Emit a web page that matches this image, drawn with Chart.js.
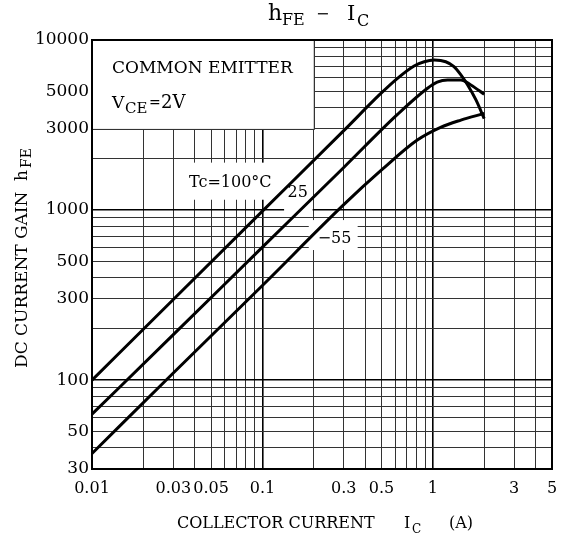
<!DOCTYPE html>
<html>
<head>
<meta charset="utf-8">
<title>hFE - IC</title>
<script src="https://cdn.jsdelivr.net/npm/chart.js@4.4.1/dist/chart.umd.min.js"></script>
<style>
    html, body { margin: 0; padding: 0; background: #fff; }
    #wrap { width: 564px; height: 538px; }
</style>
</head>
<body>
<div id="wrap"><canvas id="chartHfe" width="564" height="538"></canvas></div>
<script>
// Curvas: corriente de colector Ic (A) y ganancia hFE
const icTc100 = [0.01, 0.03, 0.1, 0.3, 0.49, 0.62, 0.776, 0.89, 1.02, 1.19, 1.33, 1.46, 1.6, 1.79, 2.0];
const hfeTc100 = [100, 298, 985, 2930, 4800, 5950, 7030, 7450, 7620, 7450, 6970, 6230, 5440, 4440, 3450];

const icTc25 = [0.01, 0.03, 0.1, 0.3, 0.62, 0.93, 1.06, 1.22, 1.46, 1.67, 2.0];
const hfeTc25 = [63, 185, 605, 1780, 3650, 5200, 5650, 5820, 5820, 5440, 4800];

const icTcM55 = [0.01, 0.03, 0.1, 0.3, 0.5, 0.81, 1.11, 1.46, 2.0];
const hfeTcM55 = [37, 110, 360, 1075, 1720, 2580, 3065, 3380, 3700];

// Rejilla del papel log-log y valores con etiqueta
const xGrid = [0.01, 0.02, 0.03, 0.04, 0.05, 0.06, 0.07, 0.08, 0.09,
    0.1, 0.2, 0.3, 0.4, 0.5, 0.6, 0.7, 0.8, 0.9, 1, 2, 3, 4, 5];
const yGrid = [30, 40, 50, 60, 70, 80, 90, 100, 200, 300, 400, 500, 600, 700, 800, 900,
    1000, 2000, 3000, 4000, 5000, 6000, 7000, 8000, 9000, 10000];
const xTickLabels = [0.01, 0.03, 0.05, 0.1, 0.3, 0.5, 1, 3, 5];
const yTickLabels = [30, 50, 100, 300, 500, 1000, 3000, 5000, 10000];

const SERIF = '"DejaVu Serif", "Liberation Serif", serif';

const GraficoHfe = {
    chart: null,

    // Zonas blancas que tapan la rejilla (cuadro de texto y etiquetas)
    mascaras: [
        { x0: 0.01, x1: 0.2, y0: 3000, y1: 10000 },
        { x0: 0.031, x1: 0.133, y0: 1150, y1: 1900 },
        { x0: 0.134, x1: 0.197, y0: 950, y1: 1900 },
        { x0: 0.187, x1: 0.362, y0: 582, y1: 873 },
    ],

    /**
     * Una decada (0.01, 0.1, 1, 100, 1000...) lleva linea mas marcada
     */
    esDecada: function(v) {
        const l = Math.log10(v);
        return Math.abs(l - Math.round(l)) < 1e-9;
    },

    puntos: function(xs, ys) {
        return xs.map((x, i) => ({ x: x, y: ys[i] }));
    },

    /**
     * Dibuja texto en tramos (para subindices)
     */
    tramos: function(ctx, partes) {
        partes.forEach(p => {
            ctx.font = p.size + 'px ' + SERIF;
            ctx.fillText(p.t, p.x, p.y);
        });
    },

    pluginFondo: {
        id: 'fondoRejilla',
        beforeDatasetsDraw: function(chart) {
            const { ctx, chartArea, scales } = chart;
            const x = scales.x, y = scales.y;
            ctx.save();
            ctx.fillStyle = '#fff';
            GraficoHfe.mascaras.forEach(m => {
                const l = x.getPixelForValue(m.x0);
                const r = x.getPixelForValue(m.x1);
                const t = y.getPixelForValue(m.y1);
                const b = y.getPixelForValue(m.y0);
                ctx.fillRect(l, t, r - l, b - t);
            });

            // Bordes del cuadro "COMMON EMITTER"
            const bx = Math.round(x.getPixelForValue(0.2)) + 0.5;
            const by = Math.round(y.getPixelForValue(3000)) + 0.5;
            ctx.strokeStyle = '#333';
            ctx.lineWidth = 1;
            ctx.beginPath();
            ctx.moveTo(bx, chartArea.top);
            ctx.lineTo(bx, by);
            ctx.lineTo(chartArea.left, by);
            ctx.stroke();

            // Marco
            ctx.strokeStyle = '#000';
            ctx.lineWidth = 2;
            ctx.strokeRect(chartArea.left, chartArea.top,
                chartArea.right - chartArea.left, chartArea.bottom - chartArea.top);
            ctx.restore();
        },
        afterDatasetsDraw: function(chart) {
            const { ctx, scales } = chart;
            const x = scales.x, y = scales.y;
            ctx.save();
            ctx.fillStyle = '#000';
            ctx.textBaseline = 'alphabetic';
            ctx.textAlign = 'left';

            GraficoHfe.tramos(ctx, [
                { t: 'COMMON EMITTER', size: 17, x: 112, y: 73 },
                { t: 'V', size: 17, x: 112, y: 108 },
                { t: 'CE', size: 15, x: 125, y: 113 },
                { t: '=', size: 14, x: 149, y: 107 },
                { t: '2V', size: 18, x: 161, y: 108 },
            ]);

            // Etiquetas de temperatura
            ctx.textAlign = 'center';
            ctx.textBaseline = 'middle';
            ctx.font = '16px ' + SERIF;
            ctx.fillText('Tc=100°C', x.getPixelForValue(0.0648), y.getPixelForValue(1442));
            ctx.fillText('25', x.getPixelForValue(0.161), y.getPixelForValue(1259));
            ctx.fillText('−55', x.getPixelForValue(0.265), y.getPixelForValue(675));
            ctx.restore();
        },
        afterDraw: function(chart) {
            const ctx = chart.ctx;
            ctx.save();
            ctx.fillStyle = '#000';
            ctx.textAlign = 'left';
            ctx.textBaseline = 'alphabetic';

            // Titulo
            GraficoHfe.tramos(ctx, [
                { t: 'h', size: 22, x: 268, y: 20 },
                { t: 'FE', size: 16, x: 282, y: 25 },
                { t: '−', size: 16, x: 316, y: 19 },
                { t: 'I', size: 21, x: 347, y: 20 },
                { t: 'C', size: 16, x: 357, y: 26 },
            ]);

            // Titulo eje X
            GraficoHfe.tramos(ctx, [
                { t: 'COLLECTOR CURRENT', size: 16, x: 177, y: 528 },
                { t: 'I', size: 16, x: 404, y: 528 },
                { t: 'C', size: 12, x: 412, y: 533 },
                { t: '(A)', size: 16, x: 449, y: 528 },
            ]);

            // Titulo eje Y (girado)
            ctx.translate(27, 0);
            ctx.rotate(-Math.PI / 2);
            GraficoHfe.tramos(ctx, [
                { t: 'DC CURRENT GAIN', size: 17, x: -368, y: 0 },
                { t: 'h', size: 17, x: -181, y: 0 },
                { t: 'FE', size: 14, x: -168, y: 4 },
            ]);
            ctx.restore();
        },
    },

    /**
     * Crea el grafico
     */
    init: function() {
        const canvas = document.getElementById('chartHfe');
        if (!canvas) return;

        if (typeof Chart === 'undefined') {
            console.warn('Chart.js no esta cargado');
            return;
        }

        const curva = (data) => ({
            data: data,
            borderColor: '#000',
            borderWidth: 3,
            pointRadius: 0,
            fill: false,
            cubicInterpolationMode: 'monotone',
        });

        const colorRejilla = (c) => GraficoHfe.esDecada(c.tick.value) ? '#000' : '#333';
        const anchoRejilla = (c) => GraficoHfe.esDecada(c.tick.value) ? 1.6 : 1;

        this.chart = new Chart(canvas, {
            type: 'line',
            data: {
                datasets: [
                    curva(this.puntos(icTc100, hfeTc100)),
                    curva(this.puntos(icTc25, hfeTc25)),
                    curva(this.puntos(icTcM55, hfeTcM55)),
                ],
            },
            options: {
                responsive: false,
                animation: false,
                layout: {
                    padding: { left: 0, right: 12, top: 40, bottom: 0 },
                },
                plugins: {
                    legend: { display: false },
                    tooltip: { enabled: false },
                },
                scales: {
                    x: {
                        type: 'logarithmic',
                        min: 0.01,
                        max: 5,
                        afterBuildTicks: (scale) => {
                            scale.ticks = xGrid.map(v => ({ value: v }));
                        },
                        afterFit: (scale) => {
                            scale.height = 69;
                            scale.paddingLeft = 0;
                            scale.paddingRight = 0;
                        },
                        border: { display: false },
                        grid: { color: colorRejilla, lineWidth: anchoRejilla, drawTicks: false },
                        ticks: {
                            autoSkip: false,
                            maxRotation: 0,
                            padding: 10,
                            color: '#000',
                            font: { family: SERIF, size: 16 },
                            callback: (v) => xTickLabels.includes(v) ? String(v) : '',
                        },
                    },
                    y: {
                        type: 'logarithmic',
                        min: 30,
                        max: 10000,
                        afterBuildTicks: (scale) => {
                            scale.ticks = yGrid.map(v => ({ value: v }));
                        },
                        afterFit: (scale) => {
                            scale.width = 92;
                            scale.paddingTop = 0;
                            scale.paddingBottom = 0;
                        },
                        border: { display: false },
                        grid: { color: colorRejilla, lineWidth: anchoRejilla, drawTicks: false },
                        ticks: {
                            autoSkip: false,
                            padding: 3,
                            color: '#000',
                            font: { family: SERIF, size: 17 },
                            callback: (v) => yTickLabels.includes(v) ? String(v) : '',
                        },
                    },
                },
            },
            plugins: [this.pluginFondo],
        });
    },
};

document.addEventListener('DOMContentLoaded', () => {
    GraficoHfe.init();
});
</script>
</body>
</html>
